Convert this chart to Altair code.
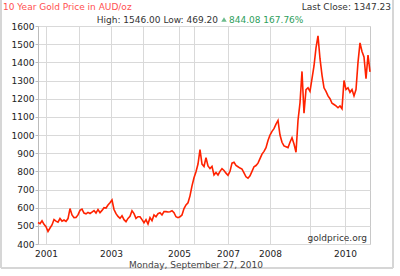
import altair as alt
import pandas as pd

# Price samples (AUD/oz), evenly spaced in time order across the chart
prices = [
    518, 512, 528, 508, 495, 469, 488, 505, 535, 526, 520, 540, 526, 532, 524, 540,
    595, 560, 545, 546, 560, 585, 592, 570, 566, 574, 568, 576, 584, 570, 590, 572,
    585, 600, 598, 615, 627, 642, 590, 567, 552, 541, 556, 534, 523, 541, 552, 583,
    567, 541, 550, 550, 534, 517, 534, 510, 545, 528, 560, 550, 567, 572, 560, 578,
    578, 576, 578, 583, 572, 550, 545, 550, 560, 595, 615, 627, 665, 720, 765, 798,
    840, 920, 840, 827, 875, 830, 815, 827, 780, 794, 780, 800, 815, 805, 790, 778,
    800, 845, 850, 832, 825, 818, 812, 792, 770, 762, 775, 800, 825, 832, 845, 870,
    895, 910, 930, 970, 1000, 1020, 1035, 1060, 1080, 1000, 960, 940, 935, 930, 960, 985,
    950, 905, 1080, 1177, 1350, 1120, 1250, 1260, 1240, 1310, 1380, 1480, 1546, 1420, 1330, 1260,
    1240, 1215, 1200, 1175, 1168, 1160, 1150, 1160, 1145, 1300, 1250, 1260, 1235, 1250, 1215, 1250,
    1400, 1507, 1460, 1430, 1310, 1440, 1347,
]

# Year gridline positions (in sample index) and their labels ('' = unlabeled)
grid_pos = [4, 20.5, 36.5, 52.5, 70.5, 78, 95, 116, 136, 153.5]
grid_lbl = ["2001", "", "2003", "", "2005", "", "2007", "2008", "", "2010"]

y_ticks = list(range(400, 1700, 100))

title_txt = "10 Year Gold Price in AUD/oz"
last_close_txt = "Last Close: 1347.23"
hilo_txt = "High: 1546.00 Low: 469.20"
change_txt = "844.08 167.76%"
source_txt = "goldprice.org"
date_txt = "Monday, September 27, 2010"

df = pd.DataFrame({"idx": list(range(len(prices))), "price": prices})

FONT = "DejaVu Sans"
W, H = 332, 218

expr = "".join(
    f"datum.value == {p} ? '{l}' : " for p, l in zip(grid_pos, grid_lbl)
) + "''"

xs = alt.Scale(domain=[0, len(prices) - 1], nice=False, zero=False)
ys = alt.Scale(domain=[400, 1600], nice=False, zero=False)

line = alt.Chart(df).mark_line(color="#ff2200", strokeWidth=1.6).encode(
    x=alt.X("idx:Q", scale=xs,
            axis=alt.Axis(values=grid_pos, labelExpr=expr, title=None, grid=True,
                          ticks=False, domain=False, labelPadding=5, labelFlush=False,
                          labelOverlap=False, gridColor="#d9d9d9", labelColor="#222",
                          labelFont=FONT, labelFontSize=9)),
    y=alt.Y("price:Q", scale=ys,
            axis=alt.Axis(values=y_ticks, format="d", title=None, grid=True, ticks=True,
                          tickSize=3, tickColor="#bbb", domain=True, domainColor="#bbb",
                          labelPadding=1, gridColor="#d9d9d9", labelColor="#222",
                          labelFont=FONT, labelFontSize=9)),
)

def txt(s, x, y, color, align="left", size=9):
    return alt.Chart(pd.DataFrame({"t": [s]})).mark_text(
        align=align, baseline="middle", font=FONT, fontSize=size, color=color
    ).encode(text="t:N", x=alt.value(x), y=alt.value(y))

title = txt(title_txt, -35, -19, "#ff5050")
last_close = txt(last_close_txt, 353, -19, "#333", align="right")
hilo = txt(hilo_txt, 180, -6, "#333", align="right")
change = txt(change_txt, 191, -6, "#2e9e5b")
tri = alt.Chart(pd.DataFrame({"t": [1]})).mark_point(
    shape="triangle-up", filled=True, color="#2e9e5b", size=30
).encode(x=alt.value(186), y=alt.value(-6.5))
source = txt(source_txt, 329, 212, "#333", align="right")
date = txt(date_txt, 158, 239, "#444", align="center")

frame_src = pd.DataFrame({"t": [1]})
fl = alt.Chart(frame_src).mark_rule(color="#d6d6d6", strokeWidth=2).encode(
    x=alt.value(-37), y=alt.value(-26), y2=alt.value(242))
fr = alt.Chart(frame_src).mark_rule(color="#d6d6d6", strokeWidth=2).encode(
    x=alt.value(355), y=alt.value(-26), y2=alt.value(242))
fb = alt.Chart(frame_src).mark_rule(color="#d6d6d6", strokeWidth=2).encode(
    x=alt.value(-37), x2=alt.value(355), y=alt.value(242))

chart = alt.layer(fl, fr, fb, line, title, last_close, hilo, tri, change, source, date).properties(
    width=W, height=H,
    autosize=alt.AutoSizeParams(type="none"),
    padding={"left": 38, "top": 26, "right": 30, "bottom": 32},
    background="white",
).configure_view(stroke="#c8c8c8", strokeWidth=1)

chart.save("out.html", embed_options={"renderer": "svg", "actions": False})
